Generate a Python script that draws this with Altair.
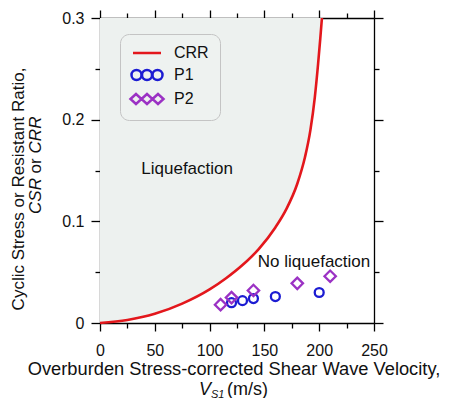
import altair as alt
import pandas as pd

# ---- data ----
crr_vs = [0, 25, 50, 75, 100, 115, 130, 145, 160, 170, 180, 187, 192, 196, 199, 201, 202.5]
crr_val = [0, 0.003, 0.009, 0.019, 0.033, 0.044, 0.057, 0.073, 0.094, 0.112, 0.137,
           0.163, 0.19, 0.222, 0.255, 0.28, 0.3]
p1_vs = [120, 130, 140, 160, 200]
p1_csr = [0.020, 0.022, 0.024, 0.026, 0.030]
p2_vs = [110, 120, 140, 180, 210]
p2_csr = [0.018, 0.025, 0.032, 0.039, 0.046]
series_names = ["CRR", "P1", "P2"]
x_ticks = [0, 25, 50, 75, 100, 125, 150, 175, 200, 225, 250]
y_ticks = [0, 0.05, 0.1, 0.15, 0.2, 0.25, 0.3]

RED = "#e3171c"
BLUE = "#1c1cd2"
PURPLE = "#9b32c4"
FILL = "#edf1ef"
FONT = "Liberation Sans"

crr_df = pd.DataFrame({"vs": crr_vs, "crr": crr_val})
p1_df = pd.DataFrame({"vs": p1_vs, "v": p1_csr})
p2_df = pd.DataFrame({"vs": p2_vs, "v": p2_csr})
pts_df = pd.DataFrame({"vs": p1_vs + p2_vs, "v": p1_csr + p2_csr,
                       "series": ["P1"] * len(p1_vs) + ["P2"] * len(p2_vs)})

xs = alt.Scale(domain=[0, 250], nice=False, zero=False)
ys = alt.Scale(domain=[0, 0.3], nice=False, zero=False)

x_major = "datum.value % 50 === 0"
y_major = "round(datum.value * 100) % 10 === 0"

common_axis = dict(grid=False, domainColor="#000", domainWidth=1.3, tickColor="#000",
                   tickWidth=1.3, labelFont=FONT, labelFontSize=16, labelColor="#111",
                   title=None)

bottom_axis = alt.Axis(orient="bottom", values=x_ticks,
                       labelExpr=f"{x_major} ? datum.label : ''",
                       tickSize={"condition": {"test": x_major, "value": 8}, "value": 5},
                       labelPadding=11, labelFlush=False, labelOverlap=False, **common_axis)
left_axis = alt.Axis(orient="left", values=y_ticks,
                     labelExpr=f"{y_major} ? (datum.value === 0 ? '0' : format(datum.value, '.1f')) : ''",
                     tickSize={"condition": {"test": y_major, "value": 9}, "value": 5},
                     labelPadding=7, labelFlush=False, labelOverlap=False, **common_axis)
top_axis = alt.Axis(orient="top", values=x_ticks, labels=False,
                    tickSize={"condition": {"test": x_major, "value": 8}, "value": 5},
                    **common_axis)
right_axis = alt.Axis(orient="right", values=y_ticks, labels=False,
                      tickSize={"condition": {"test": y_major, "value": 9}, "value": 5},
                      **common_axis)

area = alt.Chart(crr_df).mark_area(color=FILL, interpolate="monotone").encode(
    x=alt.X("vs:Q", scale=xs, axis=bottom_axis),
    y=alt.Y("crr:Q", scale=ys, axis=left_axis),
    y2=alt.datum(0.3),
)

line = alt.Chart(crr_df).mark_line(color=RED, strokeWidth=2.6, interpolate="monotone").encode(
    x=alt.X("vs:Q", scale=xs, axis=top_axis),
    y=alt.Y("crr:Q", scale=ys, axis=right_axis),
)

p1 = alt.Chart(p1_df).mark_point(shape="circle", filled=False, size=80, strokeWidth=2.3,
                                 color=BLUE, opacity=1).encode(
    x=alt.X("vs:Q", scale=xs, axis=None), y=alt.Y("v:Q", scale=ys, axis=None))
p2 = alt.Chart(p2_df).mark_point(shape="diamond", filled=False, size=130, strokeWidth=2.3,
                                 color=PURPLE, opacity=1).encode(
    x=alt.X("vs:Q", scale=xs, axis=None), y=alt.Y("v:Q", scale=ys, axis=None))


# legend symbols: a short line, three circles, three diamonds (unit coordinates)
def circ(cx, r=1.0):
    k = 0.5523 * r
    return (f"M{cx + r},0 C{cx + r},{k} {cx + k},{r} {cx},{r} "
            f"C{cx - k},{r} {cx - r},{k} {cx - r},0 "
            f"C{cx - r},{-k} {cx - k},{-r} {cx},{-r} "
            f"C{cx + k},{-r} {cx + r},{-k} {cx + r},0 Z")


def dia(cx, w=1.1, h=1.0):
    return f"M{cx - w},0 L{cx},{-h} L{cx + w},0 L{cx},{h} Z"


line_sym = "M-2.8,0 L2.8,0"
circ_sym = " ".join(circ(c) for c in (-2.1, 0, 2.1))
dia_sym = " ".join(dia(c) for c in (-2.2, 0, 2.2))

leg = alt.Legend(orient="none", legendX=20, legendY=16, title=None,
                 fillColor="#eef2f0", strokeColor="#c4c4c4", cornerRadius=9,
                 padding=11, labelFont=FONT, labelFontSize=16, labelColor="#111",
                 symbolSize=100, symbolStrokeWidth=2.5, symbolOffset=8,
                 labelOffset=19, rowPadding=4)

legend_layer = alt.Chart(pts_df).mark_point(filled=False, opacity=0).encode(
    x=alt.X("vs:Q", scale=xs, axis=None),
    y=alt.Y("v:Q", scale=ys, axis=None),
    color=alt.Color("series:N", scale=alt.Scale(domain=series_names, range=[RED, BLUE, PURPLE]),
                    legend=leg),
    shape=alt.Shape("series:N", scale=alt.Scale(domain=series_names,
                                                range=[line_sym, circ_sym, dia_sym]),
                    legend=leg),
)

blank = alt.Data(values=[{}])


def ann(text, xv, yv):
    return alt.Chart(blank).mark_text(text=text, font=FONT, fontSize=17, color="#111",
                                      align="center", baseline="middle").encode(
        x=alt.XDatum(xv, scale=xs, axis=None), y=alt.YDatum(yv, scale=ys, axis=None))


liq = ann("Liquefaction", 79.5, 0.151)
noliq = ann("No liquefaction", 195.3, 0.060)


def txt(text, x, y, size=17, style="normal", angle=0, align="center", baseline="middle"):
    kw = dict(text=text, font=FONT, fontSize=size, fontStyle=style, color="#111",
              align=align, baseline=baseline)
    if angle:
        kw["angle"] = angle
    return alt.Chart(blank).mark_text(**kw).encode(x=alt.value(x), y=alt.value(y))


titles = [
    txt("Cyclic Stress or Resistant Ratio,", -81, 171, angle=270),
    txt("CSR", -64, 178, style="italic", angle=270),
    txt("or", -64, 148, angle=270),
    txt("CRR", -64, 117, style="italic", angle=270),
    txt("Overburden Stress-corrected Shear Wave Velocity,", 134, 357, size=18.3,
        baseline="alphabetic"),
    txt("V", 99, 377, size=18, style="italic", align="left", baseline="alphabetic"),
    txt("S1", 111, 379.5, size=11, style="italic", align="left", baseline="alphabetic"),
    txt("(m/s)", 127, 377, size=18, align="left", baseline="alphabetic"),
]

chart = alt.layer(area, line, p1, p2, legend_layer, liq, noliq, *titles).resolve_axis(
    x="independent", y="independent"
).properties(
    width=274, height=305,
    autosize=alt.AutoSizeParams(type="none"),
    padding={"left": 92, "top": 10, "right": 69, "bottom": 75},
).configure_view(stroke=None).configure(background="white")

chart.save("out.html", embed_options={"renderer": "svg", "actions": False})
